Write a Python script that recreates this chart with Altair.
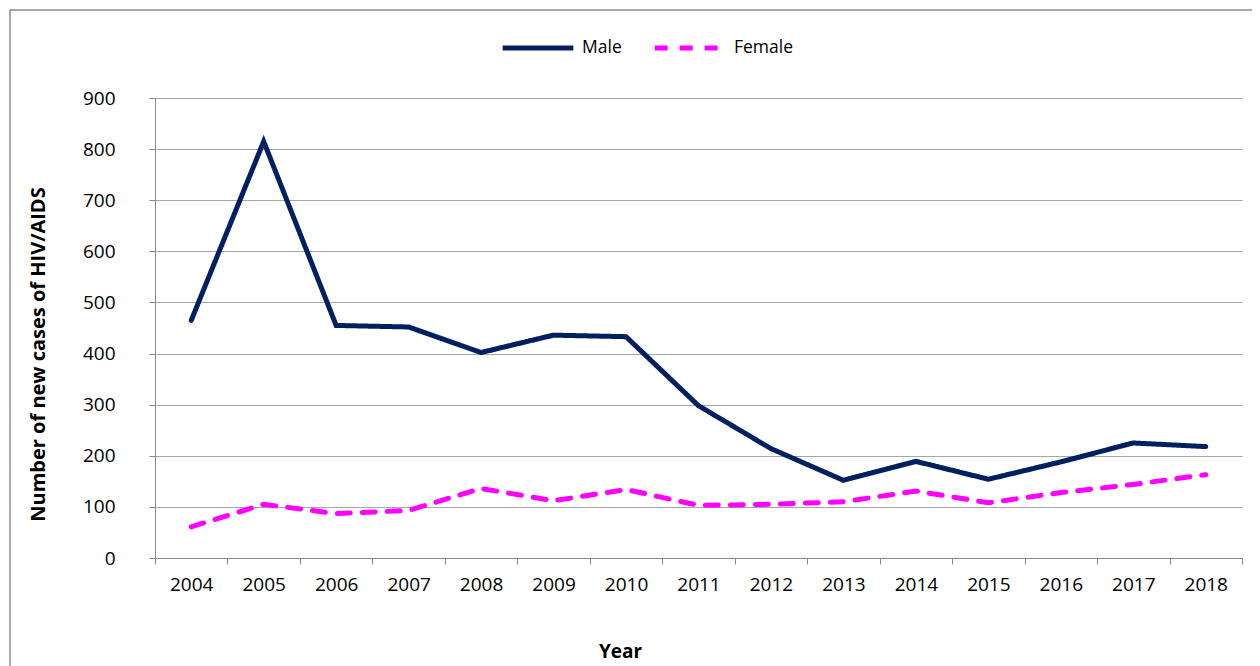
import altair as alt
import pandas as pd

years = [str(y) for y in range(2004, 2019)]
male = [465, 815, 455, 452, 402, 436, 433, 298, 214, 152, 189, 154, 188, 225, 218]
female = [61, 105, 87, 93, 136, 112, 134, 103, 105, 110, 131, 108, 128, 144, 163]

rows = []
for y, m, f in zip(years, male, female):
    rows.append({"Year": y, "Series": "Male", "Cases": m})
    rows.append({"Year": y, "Series": "Female", "Cases": f})
df = pd.DataFrame(rows)

FONT = "Open Sans"

lines = alt.Chart(df).mark_line(strokeWidth=5, strokeCap="round", strokeJoin="miter").encode(
    x=alt.X("Year:O", sort=years,
            scale=alt.Scale(type="band", paddingInner=0, paddingOuter=0),
            axis=alt.Axis(title="Year", labelAngle=0, tickBand="extent", grid=False,
                          domainColor="#888888", tickColor="#888888", tickSize=6,
                          labelPadding=11, labelFontSize=19, labelColor="black",
                          labelFont=FONT, titleFont=FONT, titleFontSize=19,
                          titleFontWeight="bold", titleColor="black",
                          titleX=465, titleY=84, titleBaseline="top")),
    y=alt.Y("Cases:Q", scale=alt.Scale(domain=[0, 900]),
            axis=alt.Axis(title="Number of new cases of HIV/AIDS", values=list(range(0, 1000, 100)),
                          grid=True, gridColor="#A6A6A6", gridWidth=1.2,
                          domainColor="#888888", tickColor="#888888", tickSize=6,
                          labelPadding=34, labelFontSize=19, labelColor="black",
                          labelFont=FONT, titleFont=FONT, titleFontSize=20,
                          titleFontWeight="bold", titleColor="black",
                          titleX=-117, titleY=256, titleBaseline="middle")),
    color=alt.Color("Series:N", sort=["Male", "Female"],
                    scale=alt.Scale(domain=["Male", "Female"], range=["#002060", "#FF00FF"]),
                    legend=alt.Legend(title=None, orient="none", direction="horizontal",
                                      legendX=345, legendY=-88, symbolType="stroke",
                                      symbolSize=5000, symbolStrokeWidth=5,
                                      labelFont=FONT, labelFontSize=17.5, labelColor="black",
                                      columnPadding=22, labelOffset=6)),
    strokeDash=alt.StrokeDash("Series:N", sort=["Male", "Female"],
                              scale=alt.Scale(domain=["Male", "Female"], range=[[1, 0], [13, 12]]),
                              legend=None),
)

border = alt.Chart(pd.DataFrame({"a": [0]})).mark_rect(
    fill=None, stroke="#8C8C8C", strokeWidth=1.5, clip=False
).encode(x=alt.value(-145), x2=alt.value(1103), y=alt.value(-88), y2=alt.value(720))

chart = alt.layer(border, lines).properties(
    width=1087, height=460,
    autosize=alt.AutoSizeParams(type="none"),
    padding={"left": 147, "top": 90, "right": 10, "bottom": 108},
).configure_view(stroke=None)

chart.save("out.html", embed_options={"renderer": "svg", "actions": False})
